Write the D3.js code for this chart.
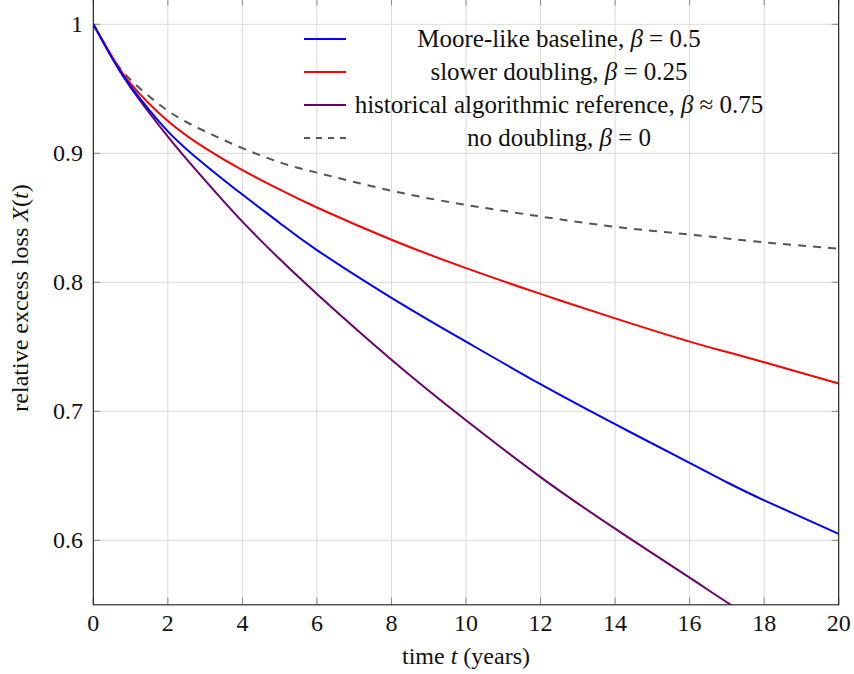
<!DOCTYPE html>
<html lang="en">
<head>
<meta charset="utf-8">
<title>relative excess loss</title>
<style>
	body{
		margin: 0;
		padding: 0;
		background: #fff;
		overflow: hidden;
	}
	svg{
		display: block;
		font-family: 'Liberation Serif', 'DejaVu Serif', serif;
	}
	.grid line{
		stroke: #dadada;
		stroke-width: 1;
	}
	.tick-mark{
		stroke: #8a8a8a;
		stroke-width: 1;
	}
	.tick-label{
		font-size: 24px;
		fill: #111;
	}
	.legend text{
		font-size: 25px;
		fill: #111;
	}
</style>
</head>
<body>
<svg id="chart" width="854" height="674"></svg>
<script src="https://cdnjs.cloudflare.com/ajax/libs/d3/7.8.5/d3.min.js"></script>
<script>
	// values
	var years = [0, 0.5, 1, 2, 3, 4, 5, 6, 8, 10, 12, 14, 16, 17, 18, 20];
	var noDoubling = [1, 0.975, 0.957, 0.933, 0.917, 0.904, 0.893, 0.885, 0.871, 0.860, 0.851, 0.843, 0.837, 0.834, 0.831, 0.826];
	var slower = [1, 0.975, 0.954, 0.925, 0.904, 0.887, 0.872, 0.858, 0.833, 0.811, 0.791, 0.772, 0.754, 0.746, 0.738, 0.7215];
	var moore = [1, 0.974, 0.952, 0.917, 0.891, 0.868, 0.846, 0.825, 0.788, 0.754, 0.721, 0.690, 0.660, 0.645, 0.631, 0.605];
	var historical = [1, 0.974, 0.951, 0.913, 0.879, 0.847, 0.818, 0.791, 0.740, 0.693, 0.649, 0.609, 0.571, 0.552, 0.534];

	var xTicks = [0, 2, 4, 6, 8, 10, 12, 14, 16, 18, 20];
	var yTicks = [0.6, 0.7, 0.8, 0.9, 1];

	var legendLabels = [
		['Moore-like baseline, ', 'β', ' = 0.5'],
		['slower doubling, ', 'β', ' = 0.25'],
		['historical algorithmic reference, ', 'β', ' ≈ 0.75'],
		['no doubling, ', 'β', ' = 0']
	];

	var series = [
		{values: moore, color: '#0000ff', dash: null, keyDash: null},
		{values: slower, color: '#ff0000', dash: null, keyDash: null},
		{values: historical, color: '#6c006c', dash: null, keyDash: null},
		{values: noDoubling, color: '#555555', dash: '8,7', keyDash: '6,6'}
	];

	// plot box (window.top is read-only, hence the prefixed names)
	var svg = d3.select('#chart'),
		pLeft = 93.3,
		pRight = 838.7,
		pTop = -1.5,
		pBottom = 604.8,
		x = d3.scaleLinear().domain([0, 20]).range([pLeft, pRight]),
		y = d3.scaleLinear().domain([0.55, 1.02]).range([pBottom, pTop]);

	function drawGrid() {
		var grid = svg.append('g').attr('class', 'grid');

		grid.selectAll('.gx').data(xTicks).enter().append('line')
			.attr('x1', function (d) { return x(d); })
			.attr('x2', function (d) { return x(d); })
			.attr('y1', pTop).attr('y2', pBottom);

		grid.selectAll('.gy').data(yTicks).enter().append('line')
			.attr('y1', function (d) { return y(d); })
			.attr('y2', function (d) { return y(d); })
			.attr('x1', pLeft).attr('x2', pRight);
	}

	function drawTicks() {
		var g = svg.append('g'),
			len = 7;

		// ticks point inwards on all four sides
		xTicks.forEach(function (d) {
			g.append('line').attr('class', 'tick-mark')
				.attr('x1', x(d)).attr('x2', x(d))
				.attr('y1', pBottom).attr('y2', pBottom - len);
			g.append('line').attr('class', 'tick-mark')
				.attr('x1', x(d)).attr('x2', x(d))
				.attr('y1', pTop).attr('y2', pTop + len);
			g.append('text').attr('class', 'tick-label')
				.attr('x', x(d)).attr('y', 631)
				.attr('text-anchor', 'middle')
				.text(d);
		});

		yTicks.forEach(function (d) {
			g.append('line').attr('class', 'tick-mark')
				.attr('y1', y(d)).attr('y2', y(d))
				.attr('x1', pLeft).attr('x2', pLeft + len);
			g.append('line').attr('class', 'tick-mark')
				.attr('y1', y(d)).attr('y2', y(d))
				.attr('x1', pRight).attr('x2', pRight - len);
			g.append('text').attr('class', 'tick-label')
				.attr('x', 83).attr('y', y(d) + 8)
				.attr('text-anchor', 'end')
				.text(d);
		});
	}

	function drawLines() {
		svg.append('clipPath').attr('id', 'plotClip')
			.append('rect')
			.attr('x', pLeft).attr('y', pTop)
			.attr('width', pRight - pLeft).attr('height', pBottom - pTop);

		var line = d3.line()
			.x(function (d) { return x(d[0]); })
			.y(function (d) { return y(d[1]); })
			.curve(d3.curveNatural);

		var g = svg.append('g').attr('clip-path', 'url(#plotClip)');

		// draw dashed one first so solid ones sit on top
		series.slice().reverse().forEach(function (s) {
			var pts = s.values.map(function (v, i) { return [years[i], v]; });
			g.append('path')
				.attr('d', line(pts))
				.attr('fill', 'none')
				.attr('stroke', s.color)
				.attr('stroke-width', 2)
				.attr('stroke-dasharray', s.dash);
		});
	}

	function drawFrame() {
		svg.append('rect')
			.attr('x', pLeft).attr('y', pTop)
			.attr('width', pRight - pLeft).attr('height', pBottom - pTop)
			.attr('fill', 'none')
			.attr('stroke', '#1a1a1a')
			.attr('stroke-width', 1.1);
	}

	function drawLegend() {
		var g = svg.append('g').attr('class', 'legend'),
			rowY = [39, 72, 105, 138];

		series.forEach(function (s, i) {
			g.append('line')
				.attr('x1', 304).attr('x2', 346)
				.attr('y1', rowY[i]).attr('y2', rowY[i])
				.attr('stroke', s.color)
				.attr('stroke-width', 2)
				.attr('stroke-dasharray', s.keyDash);

			var t = g.append('text')
				.attr('x', 559).attr('y', rowY[i] + 8)
				.attr('text-anchor', 'middle');
			t.append('tspan').text(legendLabels[i][0]);
			t.append('tspan').attr('font-style', 'italic').text(legendLabels[i][1]);
			t.append('tspan').text(legendLabels[i][2]);
		});
	}

	function drawLabels() {
		var xl = svg.append('text')
			.attr('x', (pLeft + pRight) / 2).attr('y', 664)
			.attr('text-anchor', 'middle')
			.attr('font-size', 24)
			.attr('fill', '#111');
		xl.append('tspan').text('time ');
		xl.append('tspan').attr('font-style', 'italic').text('t');
		xl.append('tspan').text(' (years)');

		var yl = svg.append('text')
			.attr('transform', 'translate(28,298) rotate(-90)')
			.attr('text-anchor', 'middle')
			.attr('font-size', 24)
			.attr('fill', '#111');
		yl.append('tspan').text('relative excess loss ');
		yl.append('tspan').attr('font-style', 'italic').text('X');
		yl.append('tspan').text('(');
		yl.append('tspan').attr('font-style', 'italic').text('t');
		yl.append('tspan').text(')');
	}

	drawGrid();
	drawTicks();
	drawLines();
	drawFrame();
	drawLegend();
	drawLabels();
</script>
</body>
</html>
